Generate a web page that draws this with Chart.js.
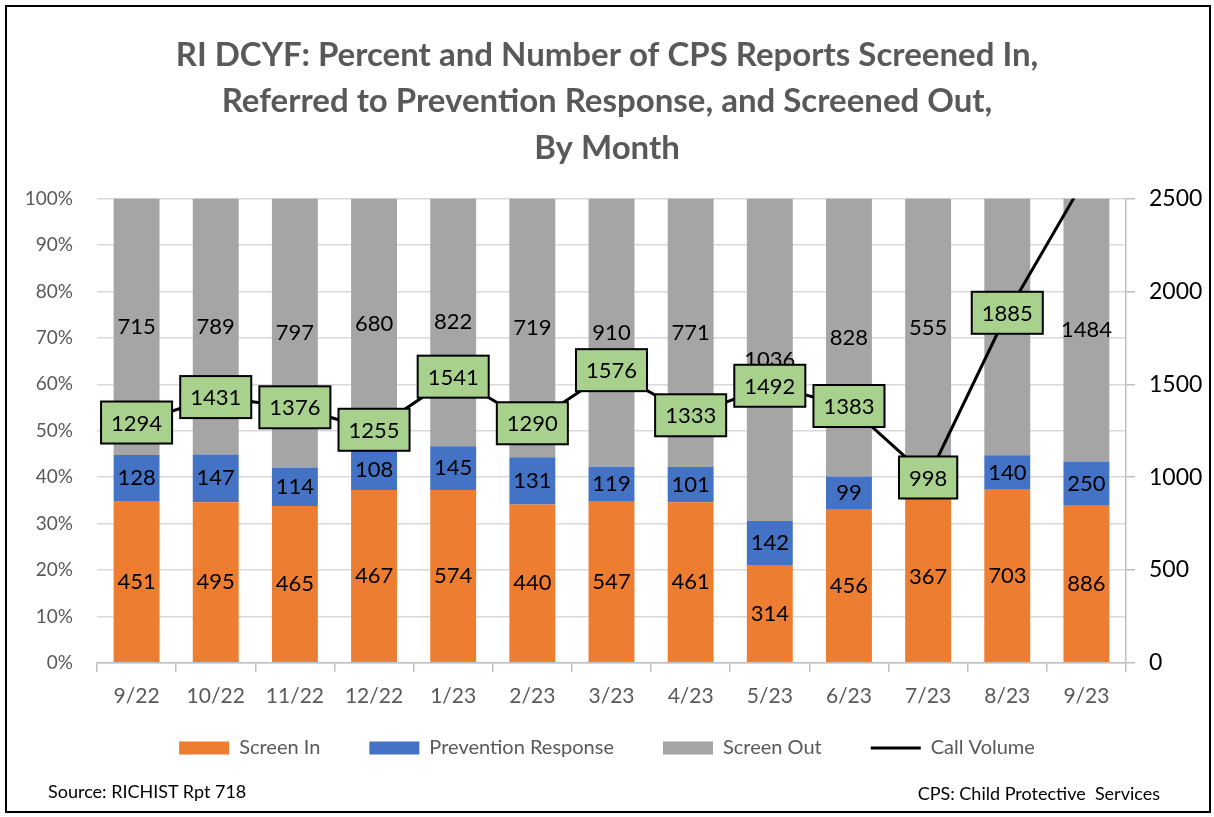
<!DOCTYPE html>
<html>
<head>
<meta charset="utf-8">
<script src="https://cdn.jsdelivr.net/npm/chart.js@4.4.0/dist/chart.umd.min.js"></script>
<style>
  html, body { margin: 0; padding: 0; background: #fff; }
  #wrap { position: relative; width: 1214px; height: 817px; }
  #chart { position: absolute; left: 0; top: 0; }
  #frame { position: absolute; left: 5px; top: 5px; width: 1202px; height: 804px; border: 2px solid #000; pointer-events: none; }
  .note { position: absolute; font-family: Lato, sans-serif; font-size: 18px; color: #000; white-space: pre; }
</style>
</head>
<body>
<div id="wrap">
  <canvas id="chart" width="1214" height="817"></canvas>
  <div id="frame"></div>
  <div class="note" style="left:48px; top:780px;">Source: RICHIST Rpt 718</div>
  <div class="note" style="right:54px; top:782px;">CPS: Child Protective  Services</div>
</div>
<script>
// months shown on the x axis
const months = ['9/22', '10/22', '11/22', '12/22', '1/23', '2/23', '3/23', '4/23', '5/23', '6/23', '7/23', '8/23', '9/23'];

// counts per month (labels on the bars)
const screenIn = [451, 495, 465, 467, 574, 440, 547, 461, 314, 456, 367, 703, 886];
const prevention = [128, 147, 114, 108, 145, 131, 119, 101, 142, 99, 76, 140, 250];
const screenOut = [715, 789, 797, 680, 822, 719, 910, 771, 1036, 828, 555, 1042, 1484];

// total reports (right axis)
const callVolume = [1294, 1431, 1376, 1255, 1541, 1290, 1576, 1333, 1492, 1383, 998, 1885, 2620];

const FONT = 'Lato, sans-serif';

// bars are 100% stacked, so turn counts into share of the month's total
function share(counts) {
    return counts.map((v, i) => v / callVolume[i] * 100);
}

// draws the count inside each bar segment, and the green boxes on the line
const labelPlugin = {
    id: 'valueLabels',
    afterDatasetDraw(chart, args) {
        const ds = chart.data.datasets[args.index];
        if (ds.type === 'line') return;
        const ctx = chart.ctx;
        ctx.save();
        ctx.font = '22px ' + FONT;
        ctx.fillStyle = '#000';
        ctx.textAlign = 'center';
        ctx.textBaseline = 'middle';
        args.meta.data.forEach((bar, i) => {
            ctx.fillText(String(ds.counts[i]), bar.x, (bar.y + bar.base) / 2);
        });
        ctx.restore();
    },
    afterDatasetsDraw(chart) {
        const idx = chart.data.datasets.findIndex(d => d.type === 'line');
        const meta = chart.getDatasetMeta(idx);
        const area = chart.chartArea;
        const ctx = chart.ctx;
        ctx.save();
        ctx.font = '22px ' + FONT;
        ctx.textAlign = 'center';
        ctx.textBaseline = 'middle';
        meta.data.forEach((pt, i) => {
            if (pt.y < area.top) return; // off the top of the axis
            const text = String(callVolume[i]);
            const w = ctx.measureText(text).width + 20;
            const h = 42;
            ctx.fillStyle = '#A9D18E';
            ctx.fillRect(pt.x - w / 2, pt.y - h / 2, w, h);
            ctx.lineWidth = 2;
            ctx.strokeStyle = '#000';
            ctx.strokeRect(pt.x - w / 2, pt.y - h / 2, w, h);
            ctx.fillStyle = '#000';
            ctx.fillText(text, pt.x, pt.y + 1);
        });
        ctx.restore();
    }
};

const barCommon = {
    type: 'bar',
    yAxisID: 'y',
    stack: 'reports',
    order: 1,
    barPercentage: 0.58,
    categoryPercentage: 1
};

new Chart(document.getElementById('chart'), {
    data: {
        labels: months,
        datasets: [
            Object.assign({ label: 'Screen In', data: share(screenIn), counts: screenIn, backgroundColor: '#ED7D31' }, barCommon),
            Object.assign({ label: 'Prevention Response', data: share(prevention), counts: prevention, backgroundColor: '#4472C4' }, barCommon),
            Object.assign({ label: 'Screen Out', data: share(screenOut), counts: screenOut, backgroundColor: '#A5A5A5' }, barCommon),
            {
                type: 'line',
                label: 'Call Volume',
                data: callVolume,
                yAxisID: 'y1',
                borderColor: '#000',
                backgroundColor: '#000',
                borderWidth: 3,
                pointRadius: 0,
                tension: 0,
                clip: 0,
                order: 0
            }
        ]
    },
    options: {
        responsive: false,
        animation: false,
        layout: { padding: { top: 8, left: 8, right: 8, bottom: 49 } },
        plugins: {
            tooltip: { enabled: false },
            title: {
                display: true,
                text: [
                    'RI DCYF: Percent and Number of CPS Reports Screened In,',
                    'Referred to Prevention Response, and Screened Out,',
                    'By Month'
                ],
                color: '#595959',
                font: { family: FONT, size: 33, weight: 'bold', lineHeight: 1.41 },
                padding: { top: 24, bottom: 27 }
            },
            legend: {
                position: 'bottom',
                // empty title with negative padding pulls the items up,
                // so the wide item spacing does not push the row down
                title: { display: true, text: '', font: { size: 10, lineHeight: 1 }, padding: -21 },
                labels: {
                    usePointStyle: true,
                    pointStyleWidth: 50,
                    boxHeight: 13,
                    padding: 49,
                    color: '#595959',
                    font: { family: FONT, size: 20 },
                    generateLabels(chart) {
                        return chart.data.datasets.map((ds, i) => {
                            const isLine = ds.type === 'line';
                            return {
                                text: ds.label,
                                datasetIndex: i,
                                fillStyle: ds.backgroundColor,
                                strokeStyle: isLine ? '#000' : ds.backgroundColor,
                                lineWidth: isLine ? 3 : 0,
                                pointStyle: isLine ? 'line' : 'rect',
                                fontColor: '#595959',
                                hidden: false
                            };
                        });
                    }
                }
            }
        },
        scales: {
            x: {
                stacked: true,
                grid: { offset: true, drawOnChartArea: false, tickLength: 9, color: '#BFBFBF', lineWidth: 1.5 },
                border: { color: '#BFBFBF', width: 1.5 },
                ticks: { color: '#595959', font: { family: FONT, size: 21 }, padding: 12 }
            },
            y: {
                stacked: true,
                min: 0,
                max: 100,
                grid: { color: '#D9D9D9', lineWidth: 1.5, drawTicks: false },
                border: { display: false },
                ticks: {
                    stepSize: 10,
                    color: '#595959',
                    font: { family: FONT, size: 19 },
                    padding: 24,
                    callback: v => v + '%'
                },
                afterFit(scale) { scale.width = 89; }
            },
            y1: {
                position: 'right',
                min: 0,
                max: 2500,
                grid: { drawOnChartArea: false, tickLength: 9, color: '#BFBFBF', lineWidth: 1.5 },
                border: { color: '#BFBFBF', width: 1.5 },
                ticks: { stepSize: 500, color: '#000', font: { family: FONT, size: 23 }, padding: 14, callback: v => String(v) },
                afterFit(scale) { scale.width = 80; }
            }
        }
    },
    plugins: [labelPlugin]
});
</script>
</body>
</html>
